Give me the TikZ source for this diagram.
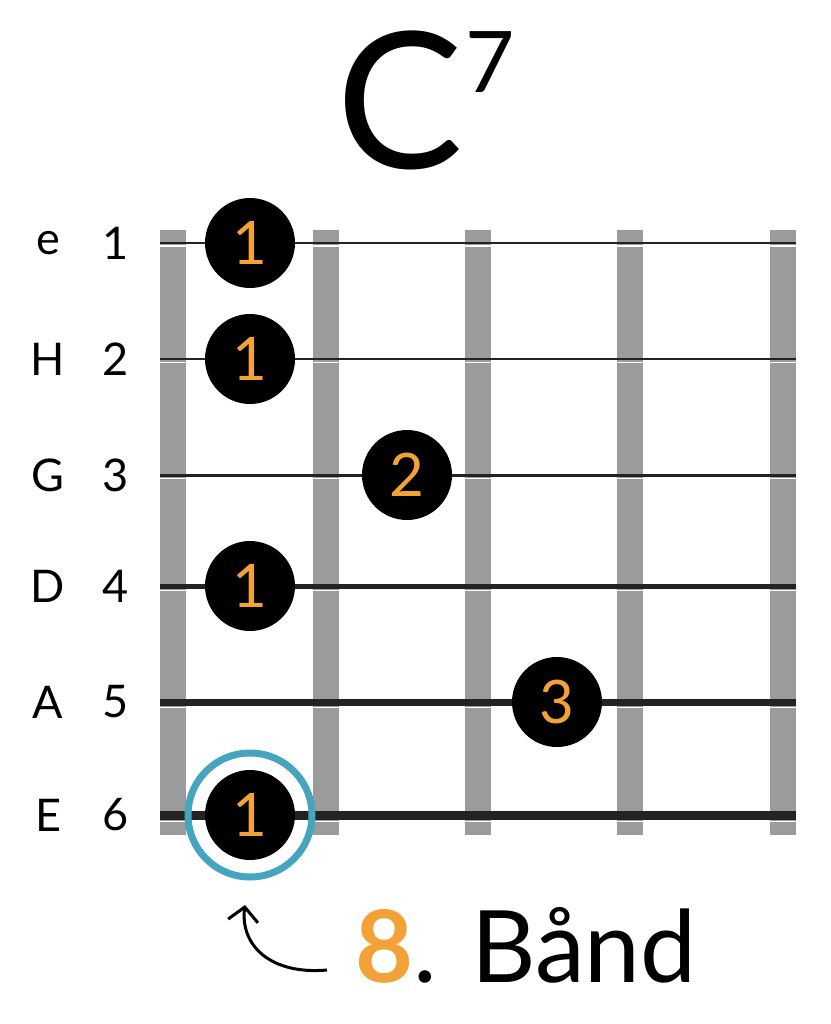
\documentclass[tikz,border=0pt]{standalone}
\usepackage{fontspec}
\setmainfont{Lato}
\usetikzlibrary{arrows.meta}
\definecolor{fretGray}{RGB}{155,155,155}
\definecolor{dotOrange}{RGB}{242,162,55}
\definecolor{markBlue}{RGB}{70,165,190}
\definecolor{stringBlack}{RGB}{35,35,35}

\begin{document}
\begin{tikzpicture}[x=1pt, y=-1pt,
    fret/.style={fill=fretGray, draw=none},
    strng/.style={draw=stringBlack},
    finger/.style={circle, fill=black, minimum size=90pt, inner sep=0pt,
                   text=dotOrange, font=\fontsize{60}{60}\selectfont},
    lbl/.style={font=\fontsize{45}{45}\selectfont, anchor=center}
]
    \useasboundingbox (0,0) rectangle (830,1024);

    % Title
    \node[font=\fontsize{190}{190}\selectfont] (title) at (400,100) {C};
    \node[font=\fontsize{85}{85}\selectfont, anchor=west] (sup) at (462,62) {7};

    % Frets
    \foreach \x in {160,313,465,617,770}
        \fill[fret] (\x,230) rectangle (\x+26,835);

    % Strings
    \foreach \y/\w [count=\i] in {243/2,359/2.5,475/3,586/5,702/7,815/9} {
        \draw[strng, line width=\w pt] (160,\y) -- (796,\y);
        \draw[white, line width=1.5pt] (160,\y+\w/2+2) -- (796,\y+\w/2+2);
    }

    % String names
    \foreach \y/\n/\k in {243/e/1,359/H/2,475/G/3,586/D/4,702/A/5,815/E/6} {
        \node[lbl] (name\k) at (48,\y) {\n};
        \node[lbl] (num\k) at (116,\y) {\k};
    }

    % Fingers
    \node[finger] (f1) at (250,243) {1};
    \node[finger] (f2) at (250,359) {1};
    \node[finger] (f3) at (407,475) {2};
    \node[finger] (f4) at (250,586) {1};
    \node[finger] (f5) at (557,702) {3};
    \node[finger] (f6) at (250,815) {1};
    \draw[markBlue, line width=7pt] (f6.center) circle (62);

    % Fret label
    \node[anchor=west, font=\fontsize{100}{100}\selectfont] (fretlbl) at (352,945)
        {\textcolor{dotOrange}{\textbf{8}}. Bånd};
    \coordinate (tail) at (327,970);
    \coordinate (head) at (245,905);
    \draw[line width=3pt, -{Straight Barb[length=14pt, width=30pt]}]
        (tail) .. controls (270,975) and (240,945) .. (head);
\end{tikzpicture}
\end{document}
